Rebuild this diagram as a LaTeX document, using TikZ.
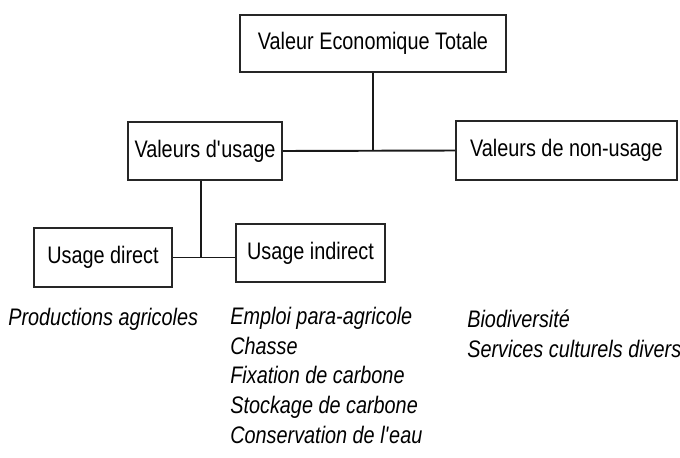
\documentclass[tikz,border=0pt]{standalone}
\usepackage{fontspec}
\setmainfont{Liberation Sans}[FakeStretch=0.83]
\usepackage{tikz}

\begin{document}
\begin{tikzpicture}[
  font=\fontsize{13.6pt}{16.8pt}\selectfont,
  box/.style={draw=black!85, line width=1.1pt, inner sep=0pt, minimum height=1.16cm},
  lien/.style={draw=black!90, line width=1.1pt},
  liste/.style={anchor=base west, inner sep=0pt, align=left, font=\fontsize{13.6pt}{16.8pt}\selectfont\itshape}]
\useasboundingbox (0,0) rectangle (13.6,9.14);
\node[box, minimum width=5.32cm, minimum height=1.14cm] (vet) at (7.46,8.27) {Valeur Economique Totale};
\node[box, minimum width=3.08cm] (usage) at (4.10,6.12) {Valeurs d\textquotesingle usage};
\node[box, minimum width=4.42cm, minimum height=1.18cm] (nonusage) at (11.33,6.13) {Valeurs de non-usage};
\node[box, minimum width=2.76cm, minimum height=1.18cm] (direct) at (2.06,3.99) {Usage direct};
\node[box, minimum width=2.98cm] (indirect) at (6.21,4.08) {Usage indirect};
\coordinate (jb) at (4.02,3.99);
\draw[lien] (usage.east) -- (nonusage.west);
\draw[lien] (vet.south) -- (vet.south |- usage.east);
\draw[lien] (direct.east) -- (direct.east -| indirect.west);
\draw[lien] (usage.south -| jb) -- (jb);
% listes sous les cases (ancre = ligne de base de la derniere ligne)
\node[liste] (prod) at (0.16,2.64) {Productions agricoles};
\node[liste] (listeind) at (4.60,0.28) {Emploi para-agricole\\Chasse\\Fixation de carbone\\Stockage de carbone\\Conservation de l\textquotesingle eau};
\node[liste] (listenon) at (9.34,2.0) {Biodiversité\\Services culturels divers};
\end{tikzpicture}
\end{document}
